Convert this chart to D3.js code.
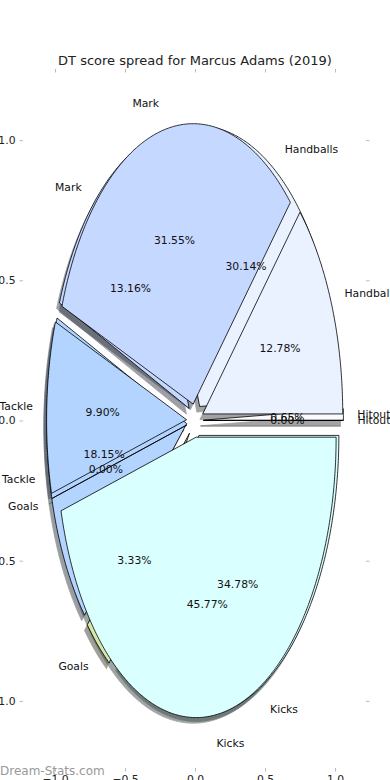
<!DOCTYPE html>
<html>
<head>
<meta charset="utf-8">
<script src="https://cdn.jsdelivr.net/npm/d3@7"></script>
<style>
  body { margin: 0; background: #fff; }
  svg { display: block; font-family: "DejaVu Sans", sans-serif; }
</style>
</head>
<body>
<div id="chart"></div>
<script>
// categories in drawing order (counter-clockwise from 3 o'clock)
var categories = ["Hitouts", "Handballs", "Mark", "Tackle", "Goals", "Kicks"];
var sliceColors = ["#fbfbff", "#eaf1ff", "#c5d8ff", "#b3d4ff", "#d5e7aa", "#d9ffff"];
// pie drawn underneath
var lowerPie = [0.65, 30.14, 13.16, 18.15, 3.33, 34.78];
// pie drawn on top
var upperPie = [0.00, 12.78, 31.55, 9.90, 0.00, 45.77];
var tickValues = [-1, -0.5, 0, 0.5, 1];

var width = 390, height = 780;
var explode = 0.06;

var svg = d3.select("#chart").append("svg")
  .attr("width", width)
  .attr("height", height);

var x = d3.scaleLinear().domain([-1.25, 1.25]).range([20, 370]);
var y = d3.scaleLinear().domain([-1.25, 1.25]).range([771, 70]);

// title
svg.append("text")
  .attr("x", 195)
  .attr("y", 65)
  .attr("text-anchor", "middle")
  .style("font-size", "13px")
  .attr("fill", "#222")
  .text("DT score spread for Marcus Adams (2019)");

// ticks on all four sides, labels only left and bottom
function styleAxis(g) {
  g.select(".domain").remove();
  g.selectAll(".tick line").attr("stroke", "#bbb");
  g.selectAll(".tick text").style("font-size", "10.8px").attr("fill", "#222")
    .style("font-family", "DejaVu Sans, sans-serif");
}
var fmt = d3.format(".1f");
svg.append("g").attr("transform", "translate(23,0)")
  .call(d3.axisLeft(y).tickValues(tickValues).tickFormat(fmt).tickSize(3.5).tickPadding(4))
  .call(styleAxis);
svg.append("g").attr("transform", "translate(366,0)")
  .call(d3.axisRight(y).tickValues(tickValues).tickFormat("").tickSize(3.5))
  .call(styleAxis);
svg.append("g").attr("transform", "translate(0,72.5)")
  .call(d3.axisTop(x).tickValues(tickValues).tickFormat("").tickSize(3.5))
  .call(styleAxis);
svg.append("g").attr("transform", "translate(0,768)")
  .call(d3.axisBottom(x).tickValues(tickValues).tickFormat(fmt).tickSize(3.5).tickPadding(4))
  .call(styleAxis);

var pie = d3.pie().sort(null).startAngle(0).endAngle(2 * Math.PI);

function wedges(values) {
  return pie(values).map(function (d, i) {
    var mid = (d.startAngle + d.endAngle) / 2;
    var cx = explode * Math.cos(mid), cy = explode * Math.sin(mid);
    var pts = [[cx, cy]];
    var n = Math.max(2, Math.ceil((d.endAngle - d.startAngle) / 0.01));
    for (var k = 0; k <= n; k++) {
      var a = d.startAngle + (d.endAngle - d.startAngle) * k / n;
      pts.push([cx + Math.cos(a), cy + Math.sin(a)]);
    }
    return { i: i, value: d.data, mid: mid, cx: cx, cy: cy, pts: pts };
  });
}

var line = d3.line()
  .x(function (p) { return x(p[0]); })
  .y(function (p) { return y(p[1]); });

var pies = [wedges(lowerPie), wedges(upperPie)];

// shadows first (offset -0.02, -0.02 in data units)
var shadowLayer = svg.append("g")
  .attr("transform", "translate(" + (x(-0.02) - x(0)) + "," + (y(-0.02) - y(0)) + ")");
pies.forEach(function (ws) {
  shadowLayer.selectAll(null).data(ws).enter().append("path")
    .attr("d", function (w) { return line(w.pts) + "Z"; })
    .attr("fill", function (w) {
      var c = d3.rgb(sliceColors[w.i]);
      return d3.rgb(c.r * 0.3, c.g * 0.3, c.b * 0.3);
    })
    .attr("stroke", function (w) {
      var c = d3.rgb(sliceColors[w.i]);
      return d3.rgb(c.r * 0.3, c.g * 0.3, c.b * 0.3);
    })
    .attr("stroke-width", 0.8)
    .attr("opacity", 0.5);
});

pies.forEach(function (ws) {
  svg.append("g").selectAll("path").data(ws).enter().append("path")
    .attr("d", function (w) { return line(w.pts) + "Z"; })
    .attr("fill", function (w) { return sliceColors[w.i]; })
    .attr("stroke", "#000")
    .attr("stroke-width", 0.8)
    .attr("stroke-linejoin", "miter");
});

// labels and percentages
var textLayer = svg.append("g").style("font-size", "10.8px").attr("fill", "#111");
pies.forEach(function (ws) {
  ws.forEach(function (w) {
    var lx = w.cx + 1.1 * Math.cos(w.mid), ly = w.cy + 1.1 * Math.sin(w.mid);
    textLayer.append("text")
      .attr("x", x(lx))
      .attr("y", y(ly))
      .attr("dy", "0.35em")
      .attr("text-anchor", lx > 0 ? "start" : "end")
      .text(categories[w.i]);
    var px = w.cx + 0.6 * Math.cos(w.mid), py = w.cy + 0.6 * Math.sin(w.mid);
    textLayer.append("text")
      .attr("x", x(px))
      .attr("y", y(py))
      .attr("dy", "0.35em")
      .attr("text-anchor", "middle")
      .text(d3.format(".2f")(w.value) + "%");
  });
});

// watermark
svg.append("text")
  .attr("x", 0)
  .attr("y", 775)
  .style("font-size", "12px")
  .attr("fill", "#999")
  .text("Dream-Stats.com");
</script>
</body>
</html>
